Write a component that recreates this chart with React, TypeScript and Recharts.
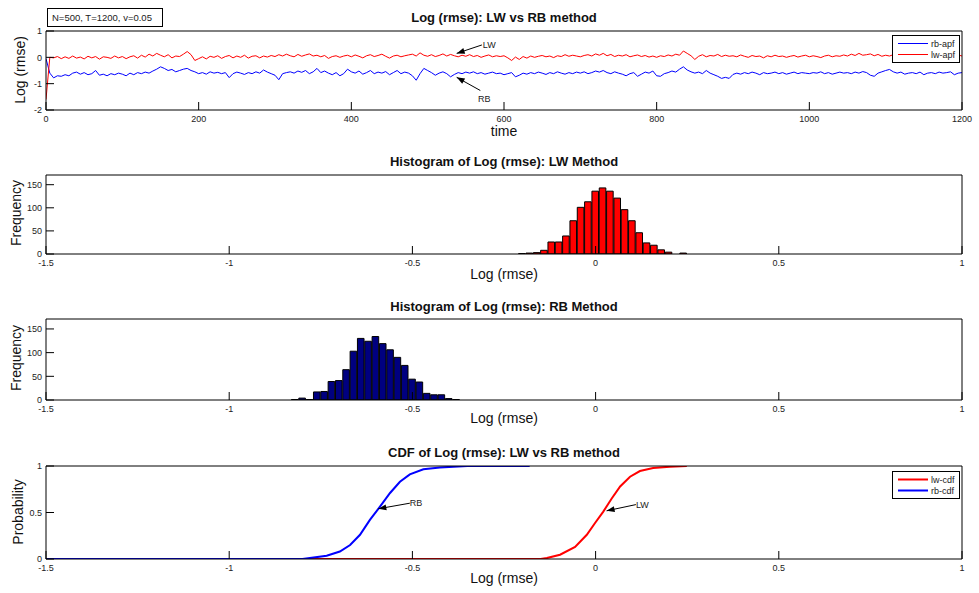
import React from "react";
import {
  ComposedChart,
  LineChart,
  Line,
  Bar,
  XAxis,
  YAxis,
  ReferenceLine,
} from "recharts";

const FONT = '"Liberation Sans", Arial, Helvetica, sans-serif';

// time series sampled every 5 steps, t = 0..1200
const timeStep = 5;
const lwApf = [
  -1.6, 0.0, -0.02, 0.03, -0.05, 0.02, -0.04, 0.05, -0.03, 0.01, -0.06, 0.04, -0.02, 0.03, -0.07, 0.02, 0.0, -0.04, 0.05, -0.02,
  0.03, -0.05, 0.02, 0.06, -0.03, 0.08, 0.01, 0.12, 0.05, 0.15, 0.08, 0.02, 0.1, -0.02, 0.05, 0.03, 0.12, 0.22, 0.1, -0.12,
  -0.05, 0.02, -0.06, 0.04, 0.0, 0.06, -0.04, 0.03, 0.07, -0.02, 0.05, 0.0, 0.08, -0.03, 0.04, 0.06, -0.02, 0.05, 0.01, 0.07,
  0.03, 0.1, 0.05, 0.12, 0.06, 0.02, 0.11, 0.04, 0.09, 0.13, 0.05, 0.08, 0.02, 0.07, -0.04, 0.03, 0.06, 0.0, 0.05, 0.08,
  0.02, 0.09, 0.04, -0.02, 0.06, 0.1, 0.03, 0.07, 0.12, 0.04, -0.03, 0.05, 0.08, 0.02, 0.06, 0.09, 0.12, 0.05, 0.17, 0.08,
  0.04, 0.1, 0.03, 0.07, 0.13, 0.05, 0.11, 0.06, 0.02, 0.08, 0.04, 0.1, 0.03, 0.07, 0.0, 0.05, 0.09, 0.02, 0.06, 0.03,
  0.06, -0.02, -0.12, 0.01, -0.08, 0.03, -0.03, 0.05, 0.0, 0.04, 0.07, 0.02, 0.05, -0.01, 0.06, 0.03, 0.1, 0.04, 0.08, 0.05,
  0.02, 0.07, 0.1, 0.05, 0.13, 0.08, 0.15, 0.06, 0.11, 0.03, 0.08, 0.05, 0.1, 0.02, 0.06, 0.09, 0.03, 0.07, 0.01, 0.05,
  0.0, 0.06, 0.03, 0.09, 0.05, 0.12, 0.08, 0.24, 0.15, 0.06, -0.08, 0.04, 0.1, 0.02, 0.07, 0.05, 0.11, 0.03, 0.08, 0.04,
  0.06, 0.02, 0.09, 0.04, 0.0, 0.07, 0.03, 0.05, -0.02, 0.06, 0.02, 0.08, 0.03, 0.05, 0.0, 0.04, 0.07, 0.01, 0.05, 0.08,
  0.02, 0.06, 0.03, -0.01, 0.05, 0.08, 0.02, 0.06, 0.04, 0.09, 0.05, 0.12, 0.07, 0.15, 0.08, 0.1, 0.13, 0.06, 0.11, 0.04,
  0.08, 0.05, 0.1, 0.03, 0.07, 0.04, 0.09, 0.06, 0.02, 0.07, 0.05, 0.1, 0.03, 0.06, 0.08, 0.04, 0.07, 0.02, 0.06, 0.09,
  0.05,
];
const rbApf = [
  -0.05, -0.6, -0.78, -0.7, -0.72, -0.66, -0.7, -0.6, -0.56, -0.64, -0.58, -0.66, -0.62, -0.5, -0.68, -0.64, -0.7, -0.62, -0.66, -0.6,
  -0.64, -0.7, -0.6, -0.66, -0.58, -0.62, -0.56, -0.6, -0.52, -0.45, -0.36, -0.42, -0.5, -0.46, -0.55, -0.5, -0.45, -0.42, -0.5, -0.55,
  -0.62, -0.58, -0.64, -0.55, -0.6, -0.57, -0.62, -0.58, -0.77, -0.62, -0.56, -0.6, -0.65, -0.58, -0.62, -0.55, -0.6, -0.48, -0.56, -0.62,
  -0.68, -0.85, -0.62, -0.58, -0.55, -0.6, -0.52, -0.57, -0.5, -0.62, -0.55, -0.42, -0.58, -0.52, -0.6, -0.66, -0.58, -0.7, -0.62, -0.45,
  -0.55, -0.6, -0.52, -0.64, -0.58, -0.5, -0.62, -0.56, -0.6, -0.54, -0.66, -0.58, -0.5, -0.62, -0.56, -0.6, -0.7, -0.87, -0.62, -0.42,
  -0.5, -0.58, -0.68, -0.6, -0.55, -0.62, -0.74, -0.65, -0.58, -0.62, -0.56, -0.6, -0.55, -0.62, -0.58, -0.64, -0.6, -0.56, -0.62, -0.6,
  -0.66, -0.62, -0.58, -0.74, -0.68, -0.6, -0.64, -0.58, -0.62, -0.56, -0.6, -0.65, -0.58, -0.62, -0.55, -0.6, -0.64, -0.58, -0.62, -0.56,
  -0.6, -0.55, -0.62, -0.58, -0.52, -0.56, -0.5, -0.58, -0.62, -0.55, -0.6, -0.64, -0.7, -0.62, -0.58, -0.72, -0.64, -0.56, -0.6, -0.52,
  -0.7, -0.72, -0.62, -0.58, -0.52, -0.56, -0.45, -0.36, -0.48, -0.55, -0.6, -0.56, -0.62, -0.5, -0.6, -0.66, -0.72, -0.8, -0.76, -0.8,
  -0.65, -0.6, -0.64, -0.58, -0.62, -0.56, -0.6, -0.66, -0.58, -0.62, -0.6, -0.56, -0.62, -0.58, -0.64, -0.6, -0.56, -0.62, -0.58, -0.6,
  -0.62, -0.58, -0.6, -0.55, -0.62, -0.58, -0.64, -0.6, -0.56, -0.6, -0.58, -0.62, -0.56, -0.6, -0.54, -0.58, -0.68, -0.72, -0.6, -0.55,
  -0.5, -0.46, -0.55, -0.6, -0.56, -0.64, -0.6, -0.58, -0.62, -0.56, -0.66, -0.6, -0.58, -0.62, -0.56, -0.6, -0.58, -0.55, -0.66, -0.6,
  -0.58,
];

// histograms (bin centres, width 0.02)
const lwBins = [-0.2, -0.18, -0.16, -0.14, -0.12, -0.1, -0.08, -0.06, -0.04, -0.02, 0, 0.02, 0.04, 0.06, 0.08, 0.1, 0.12, 0.14, 0.16, 0.18, 0.2, 0.22, 0.24];
const lwCounts = [1, 2, 3, 8, 26, 26, 39, 72, 101, 113, 136, 143, 136, 121, 96, 72, 46, 24, 19, 9, 4, 0, 2];
const rbBins = [-0.82, -0.8, -0.78, -0.76, -0.74, -0.72, -0.7, -0.68, -0.66, -0.64, -0.62, -0.6, -0.58, -0.56, -0.54, -0.52, -0.5, -0.48, -0.46, -0.44, -0.42, -0.4, -0.38];
const rbCounts = [1, 4, 1, 17, 18, 39, 41, 64, 103, 130, 124, 134, 119, 106, 90, 73, 44, 38, 14, 11, 11, 3, 1];

// empirical cdfs
const lwCdfX = [-1.5, -0.15, -0.133, -0.097, -0.056, -0.024, -0.002, 0.021, 0.044, 0.067, 0.094, 0.121, 0.157, 0.203, 0.249];
const lwCdfY = [0, 0, 0.01, 0.046, 0.13, 0.26, 0.385, 0.51, 0.65, 0.78, 0.885, 0.946, 0.978, 0.993, 1];
const rbCdfX = [-1.5, -0.8, -0.78, -0.734, -0.698, -0.67, -0.643, -0.616, -0.589, -0.561, -0.534, -0.507, -0.47, -0.425, -0.35, -0.18];
const rbCdfY = [0, 0, 0.01, 0.035, 0.08, 0.15, 0.26, 0.42, 0.56, 0.71, 0.83, 0.91, 0.965, 0.985, 1, 1];

const timeTicks = [0, 200, 400, 600, 800, 1000, 1200];
const logTicks = [-2, -1, 0, 1];
const rmseTicks = [-1.5, -1, -0.5, 0, 0.5, 1];
const freqTicks = [0, 50, 100, 150];
const probTicks = [0, 0.5, 1];

const apfData = lwApf.map((v, i) => ({ t: i * timeStep, lw: v, rb: rbApf[i] }));
const lwHist = lwBins.map((x, i) => ({ x, n: lwCounts[i] }));
const rbHist = rbBins.map((x, i) => ({ x, n: rbCounts[i] }));
const lwCdf = lwCdfX.map((x, i) => ({ x, p: lwCdfY[i] }));
const rbCdf = rbCdfX.map((x, i) => ({ x, p: rbCdfY[i] }));

const tickStyle = { fontSize: 9, fill: "#222", fontFamily: FONT };
const MARGIN = { top: 9, right: 16, bottom: 0, left: 0 };

// box with inward ticks on all four sides, like matlab axes
function frame(xKey: string, xTicks: number[], xDom: number[], yTicks: number[], yDom: number[]) {
  return [
    <XAxis key="xb" xAxisId="b" dataKey={xKey} type="number" domain={xDom} ticks={xTicks} interval={0}
      allowDataOverflow height={30} tickSize={-8} tickMargin={14} tick={tickStyle}
      stroke="#000" tickFormatter={(v: number) => String(v)} />,
    <XAxis key="xt" xAxisId="t" orientation="top" type="number" domain={xDom} ticks={xTicks} interval={0}
      allowDataOverflow height={1} tickSize={-8} tick={false} stroke="#000" />,
    <YAxis key="yl" yAxisId="l" type="number" domain={yDom} ticks={yTicks} interval={0}
      allowDataOverflow width={46} tickSize={-8} tickMargin={12} tick={tickStyle} stroke="#000"
      tickFormatter={(v: number) => String(v)} />,
    <YAxis key="yr" yAxisId="r" orientation="right" type="number" domain={yDom} ticks={yTicks} interval={0}
      allowDataOverflow width={1} tickSize={-8} tick={false} stroke="#000" />,
  ];
}

function arrow(text: string, dx: number, dy: number, anchor: string) {
  return (p: any) => {
    const { x1, y1, x2, y2 } = p;
    const a = Math.atan2(y2 - y1, x2 - x1);
    const bx = x2 - 8 * Math.cos(a);
    const by = y2 - 8 * Math.sin(a);
    const sx = 3 * Math.sin(a);
    const sy = 3 * Math.cos(a);
    const pts = `${x2},${y2} ${bx + sx},${by - sy} ${bx - sx},${by + sy}`;
    return (
      <g>
        <line x1={x1} y1={y1} x2={x2} y2={y2} stroke="#000" strokeWidth={1} />
        <polygon points={pts} fill="#000" />
        <text x={x1 + dx} y={y1 + dy} textAnchor={anchor} fontSize={9} fill="#222" fontFamily={FONT}>
          {text}
        </text>
      </g>
    );
  };
}

function Txt(props: { x: number; y: number; size: number; bold?: boolean; rot?: boolean; children: any }) {
  return (
    <div
      style={{
        position: "absolute",
        left: props.x,
        top: props.y,
        transform: `translate(-50%, -50%)${props.rot ? " rotate(-90deg)" : ""}`,
        fontSize: props.size,
        fontWeight: props.bold ? "bold" : "normal",
        whiteSpace: "nowrap",
        lineHeight: 1,
        color: "#111",
      }}
    >
      {props.children}
    </div>
  );
}

function LegendBox(props: { left: number; top: number; items: { label: string; color: string; w: number }[] }) {
  return (
    <div
      style={{
        position: "absolute",
        left: props.left,
        top: props.top,
        width: 66,
        background: "#fff",
        border: "1px solid #000",
        padding: "2px 0",
        fontSize: 9,
        color: "#222",
      }}
    >
      {props.items.map((it) => (
        <div key={it.label} style={{ display: "flex", alignItems: "center", height: 11 }}>
          <svg width={38} height={11} style={{ display: "block" }}>
            <line x1={5} y1={5.5} x2={35} y2={5.5} stroke={it.color} strokeWidth={it.w} />
          </svg>
          <span>{it.label}</span>
        </div>
      ))}
    </div>
  );
}

const W = 979;

export default function App() {
  return (
    <div style={{ position: "absolute", left: 0, top: 0, width: W, height: 593, background: "#fff", fontFamily: FONT }}>
      <div style={{ position: "absolute", left: 47, top: 8, width: 110, height: 17, border: "1px solid #000",
        fontSize: 9.5, lineHeight: "17px", paddingLeft: 4, boxSizing: "content-box", color: "#222" }}>
        N=500, T=1200, v=0.05
      </div>

      <Txt x={504} y={17} size={13} bold>Log (rmse): LW vs RB method</Txt>
      <div style={{ position: "absolute", left: 0, top: 21 }}>
        <LineChart width={W} height={119} data={apfData} margin={MARGIN}>
          {frame("t", timeTicks, [0, 1200], logTicks, [-2, 1])}
          <Line xAxisId="b" yAxisId="l" dataKey="rb" stroke="#0000ff" strokeWidth={1} dot={false} isAnimationActive={false} />
          <Line xAxisId="b" yAxisId="l" dataKey="lw" stroke="#ff0000" strokeWidth={1} dot={false} isAnimationActive={false} />
          <ReferenceLine xAxisId="b" yAxisId="l" segment={[{ x: 571, y: 0.47 }, { x: 538, y: 0.15 }]} shape={arrow("LW", 1, 3, "start")} />
          <ReferenceLine xAxisId="b" yAxisId="l" segment={[{ x: 569, y: -1.26 }, { x: 538, y: -0.76 }]} shape={arrow("RB", 4, 11, "middle")} />
        </LineChart>
      </div>
      <LegendBox left={892} top={35} items={[{ label: "rb-apf", color: "#0000ff", w: 1 }, { label: "lw-apf", color: "#ff0000", w: 1 }]} />
      <Txt x={20} y={70} size={14} rot>Log (rmse)</Txt>
      <Txt x={504} y={131} size={14}>time</Txt>

      <Txt x={504} y={161} size={13} bold>Histogram of Log (rmse): LW Method</Txt>
      <div style={{ position: "absolute", left: 0, top: 165 }}>
        <ComposedChart width={W} height={119} data={lwHist} margin={MARGIN}>
          {frame("x", rmseTicks, [-1.5, 1], freqTicks, [0, 171])}
          <Bar xAxisId="b" yAxisId="l" dataKey="n" fill="#ff0000" stroke="#000" strokeWidth={1} barSize={7.33} isAnimationActive={false} />
        </ComposedChart>
      </div>
      <Txt x={16} y={213} size={14} rot>Frequency</Txt>
      <Txt x={504} y={274} size={14}>Log (rmse)</Txt>

      <Txt x={504} y={306} size={13} bold>Histogram of Log (rmse): RB Method</Txt>
      <div style={{ position: "absolute", left: 0, top: 309 }}>
        <ComposedChart width={W} height={121} data={rbHist} margin={MARGIN}>
          {frame("x", rmseTicks, [-1.5, 1], freqTicks, [0, 171])}
          <Bar xAxisId="b" yAxisId="l" dataKey="n" fill="#000080" stroke="#000" strokeWidth={1} barSize={7.33} isAnimationActive={false} />
        </ComposedChart>
      </div>
      <Txt x={16} y={358} size={14} rot>Frequency</Txt>
      <Txt x={504} y={418} size={14}>Log (rmse)</Txt>

      <Txt x={504} y={452} size={13} bold>CDF of Log (rmse): LW vs RB method</Txt>
      <div style={{ position: "absolute", left: 0, top: 456 }}>
        <LineChart width={W} height={133} margin={MARGIN}>
          {frame("x", rmseTicks, [-1.5, 1], probTicks, [0, 1])}
          <Line xAxisId="b" yAxisId="l" data={lwCdf} dataKey="p" stroke="#ff0000" strokeWidth={2} dot={false} isAnimationActive={false} />
          <Line xAxisId="b" yAxisId="l" data={rbCdf} dataKey="p" stroke="#0000ff" strokeWidth={2} dot={false} isAnimationActive={false} />
          <ReferenceLine xAxisId="b" yAxisId="l" segment={[{ x: -0.507, y: 0.6 }, { x: -0.593, y: 0.54 }]} shape={arrow("RB", 0, 3, "start")} />
          <ReferenceLine xAxisId="b" yAxisId="l" segment={[{ x: 0.11, y: 0.585 }, { x: 0.03, y: 0.518 }]} shape={arrow("LW", 0, 3, "start")} />
        </LineChart>
      </div>
      <LegendBox left={892} top={471} items={[{ label: "lw-cdf", color: "#ff0000", w: 2 }, { label: "rb-cdf", color: "#0000ff", w: 2 }]} />
      <Txt x={18} y={512} size={14} rot>Probability</Txt>
      <Txt x={504} y={578} size={14}>Log (rmse)</Txt>
    </div>
  );
}
